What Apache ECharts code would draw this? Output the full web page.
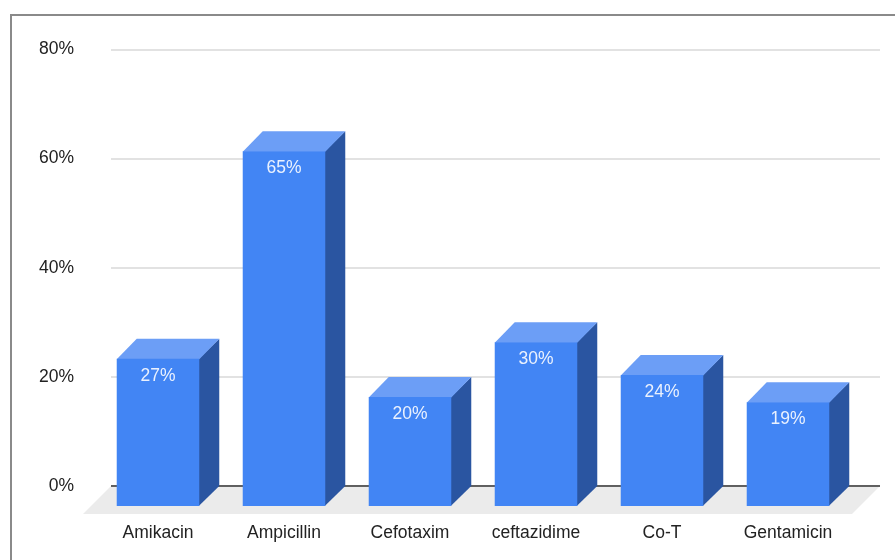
<!DOCTYPE html>
<html>
<head>
<meta charset="utf-8">
<style>
  html, body { margin: 0; padding: 0; background: #fff; }
  #chart { width: 895px; height: 560px; }
</style>
<script src="https://cdn.jsdelivr.net/npm/echarts@6/dist/echarts.min.js"></script>
</head>
<body>
<div id="chart"></div>
<script>
// Resistance rates per antibiotic (percent)
const categories = ['Amikacin', 'Ampicillin', 'Cefotaxim', 'ceftazidime', 'Co-T', 'Gentamicin'];
const values = [27, 65, 20, 30, 24, 19];
const yTicks = [0, 20, 40, 60, 80];

const FONT = 'Liberation Sans, Arial, sans-serif';
const DEPTH = 20;        // bar extrusion
const FLOOR_DEPTH = 28;  // floor extrusion
const FRONT = '#4285f4';
const TOP = '#6c9ef6';
const SIDE = '#2a55a1';

const chart = echarts.init(document.getElementById('chart'), null, { renderer: 'canvas' });

function renderBar(params, api) {
  const i = api.value(0);
  const v = api.value(1);
  const top = api.coord([i, v]);
  const base = api.coord([i, 0]);
  const w = api.size([1, 0])[0] * 0.655;
  const fl = top[0] - w / 2, fr = top[0] + w / 2;
  const fty = top[1] + DEPTH, fby = base[1] + DEPTH;
  return {
    type: 'group',
    children: [
      { type: 'polygon', shape: { points: [[fr - 0.5, fty], [fr + DEPTH, top[1]], [fr + DEPTH, base[1]], [fr - 0.5, fby]] }, style: { fill: SIDE } },
      { type: 'polygon', shape: { points: [[fl, fty + 0.5], [fr, fty + 0.5], [fr + DEPTH, top[1]], [fl + DEPTH, top[1]]] }, style: { fill: TOP } },
      { type: 'rect', shape: { x: fl, y: fty, width: w, height: fby - fty }, style: { fill: FRONT } },
      { type: 'text', x: top[0], y: fty + 17, style: { text: v + '%', fill: '#eaf1fe', font: '17.5px ' + FONT, align: 'center', verticalAlign: 'middle' } }
    ]
  };
}

// Floor plane plus the 0% baseline, kept underneath the bars
function renderFloor(params, api) {
  const cs = params.coordSys;
  const y0 = api.coord([0, 0])[1];
  const l = cs.x, r = cs.x + cs.width;
  return {
    type: 'group',
    children: [
      { type: 'polygon',
        shape: { points: [[l, y0], [r, y0], [r - FLOOR_DEPTH, y0 + FLOOR_DEPTH], [l - FLOOR_DEPTH, y0 + FLOOR_DEPTH]] },
        style: { fill: '#ebebeb' } },
      { type: 'line', shape: { x1: l, y1: y0, x2: r, y2: y0 },
        style: { stroke: '#333', lineWidth: 1.5 } }
    ]
  };
}

chart.setOption({
  animation: false,
  graphic: [{
    type: 'rect', shape: { x: 11, y: 15, width: 920, height: 600 },
    style: { fill: 'none', stroke: '#8a8a8a', lineWidth: 2 }, z: -10
  }],
  grid: [
    { left: 111, right: 15, top: 49.5, bottom: 74 },
    { left: 95, width: 756, top: 49.5, bottom: 74 }
  ],
  xAxis: [
    { type: 'category', gridIndex: 0, data: categories,
      axisLine: { show: false }, axisTick: { show: false },
      axisLabel: { show: false }, splitLine: { show: false } },
    { type: 'category', gridIndex: 1, data: categories,
      axisLine: { show: false }, axisTick: { show: false }, splitLine: { show: false },
      axisLabel: { color: '#222', fontSize: 17.5, fontFamily: FONT, margin: 38 } }
  ],
  yAxis: [
    { type: 'value', gridIndex: 0, min: yTicks[0], max: yTicks[yTicks.length - 1], interval: 20,
      axisLine: { show: false }, axisTick: { show: false },
      axisLabel: { formatter: '{value}%', color: '#222', fontSize: 17.5, fontFamily: FONT, margin: 37 },
      splitLine: { lineStyle: { color: '#d9d9d9', width: 1.5 } } },
    { type: 'value', gridIndex: 1, min: yTicks[0], max: yTicks[yTicks.length - 1], interval: 20,
      show: false }
  ],
  series: [
    { type: 'custom', name: 'floor', xAxisIndex: 0, yAxisIndex: 0, z: 1,
      renderItem: renderFloor, data: [[0, 0]], silent: true },
    { type: 'custom', name: 'resistance', xAxisIndex: 1, yAxisIndex: 1, z: 3,
      renderItem: renderBar, data: values.map((v, i) => [i, v]) }
  ]
});
</script>
</body>
</html>
